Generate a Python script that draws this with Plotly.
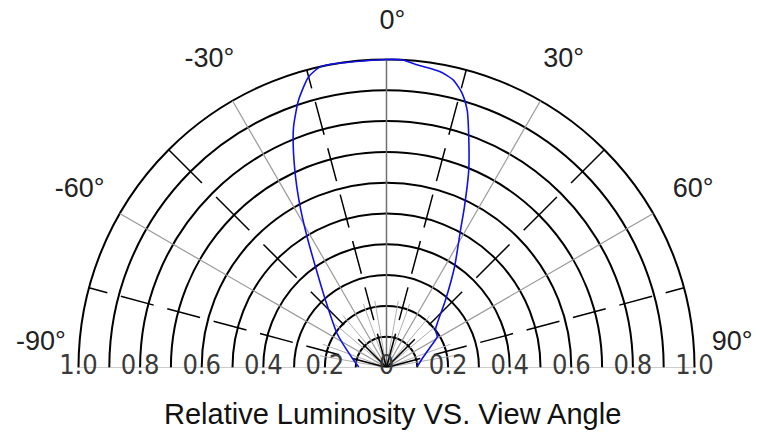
import plotly.graph_objects as go

# ---------------- data ----------------
curve_theta = [-89, -77.6, -55.6, -42.2, -35.2, -31.3, -29.2, -27.6, -25.5, -22.9,
               -21.1, -18.2, -15.0, -12.4, -8.6, 0, 3, 5.9, 10.3, 13.1, 15.4,
               17.4, 19.6, 22.6, 25.9, 28.3, 34.1, 41.2, 52.6, 58.7, 64.7, 73.7, 88]
curve_r = [0.09, 0.109, 0.194, 0.295, 0.40, 0.496, 0.561, 0.614, 0.686, 0.778,
           0.838, 0.914, 0.977, 1.0, 1.0, 1.0, 1.0, 0.987, 0.976, 0.958, 0.924,
           0.876, 0.796, 0.695, 0.579, 0.507, 0.394, 0.291, 0.20, 0.193, 0.158, 0.125, 0.10]

radial_label_values = [1.0, 0.8, 0.6, 0.4, 0.2]
radial_label_text = ["1.0", "0.8", "0.6", "0.4", "0.2"]
angle_ticks = [-90, -60, -30, 0, 30, 60, 90]
angle_tick_text = ["-90°", "-60°", "-30°", "0°", "30°", "60°", "90°"]
ring_values = [0.1, 0.2, 0.3, 0.4, 0.5, 0.6, 0.7, 0.8, 0.9, 1.0]
dash_rays_a = [-75, -15, 15, 75]
dash_rays_b = [-45, 45]
minor_spokes = [-80, -70, -50, -40, -20, -10, 10, 20, 40, 50, 70, 80]
title_text = "Relative Luminosity VS. View Angle"

W, H = 764, 434
NARROW = "Liberation Sans Narrow, DejaVu Sans Condensed, Arial Narrow, sans-serif"
REG = "Liberation Sans, Arial, sans-serif"

# polar geometry (pixels): centre and radius of the r=1 circle
CX, CY, R1 = 386.5, 367.5, 308.0
RMAX = 1.16
RP = R1 * RMAX

fig = go.Figure()

# minor gray spokes near the centre
sp_r, sp_t = [], []
for a in minor_spokes:
    sp_r += [0, 0.22, None]
    sp_t += [a, a, None]
fig.add_trace(go.Scatterpolar(r=sp_r, theta=sp_t, mode="lines",
                              line=dict(color="#b0b0b0", width=1),
                              hoverinfo="skip", showlegend=False))

# major angular grid lines (30, 60, 90)
gr_r, gr_t = [], []
for a in angle_ticks:
    if a != 0:
        gr_r += [0, 1, None]
        gr_t += [a, a, None]
fig.add_trace(go.Scatterpolar(r=gr_r, theta=gr_t, mode="lines",
                              line=dict(color="#9a9a9a", width=1.2),
                              hoverinfo="skip", showlegend=False))

# 0 degree axis line
fig.add_trace(go.Scatterpolar(r=[0, 1], theta=[0, 0], mode="lines",
                              line=dict(color="#707070", width=1.5),
                              hoverinfo="skip", showlegend=False))

# dashed tick rays
for a in dash_rays_a:
    fig.add_trace(go.Scatterpolar(
        r=[1, 0], theta=[a, a], mode="lines",
        line=dict(color="black", width=1.5,
                  dash="19px,14px,34px,14px,34px,14px,34px,14px,34px,14px,34px,14px,34px,14px"),
        hoverinfo="skip", showlegend=False))
for a in dash_rays_b:
    fig.add_trace(go.Scatterpolar(
        r=[1, 0], theta=[a, a], mode="lines",
        line=dict(color="black", width=1.5, dash="47px,20px"),
        hoverinfo="skip", showlegend=False))

# luminosity curve
fig.add_trace(go.Scatterpolar(r=curve_r, theta=curve_theta, mode="lines",
                              line=dict(color="#1010e8", width=1.6, shape="spline", smoothing=0.6),
                              showlegend=False))

# radial labels along the base line
lab_r = radial_label_values + [0] + radial_label_values[::-1]
lab_t = [-90] * len(radial_label_values) + [90] + [90] * len(radial_label_values)
lab_s = radial_label_text + ["0"] + radial_label_text[::-1]
fig.add_trace(go.Scatterpolar(r=lab_r, theta=lab_t, mode="text", text=lab_s,
                              textposition="middle center", cliponaxis=False,
                              textfont=dict(family=NARROW, size=27, color="#3a3a3a"),
                              hoverinfo="skip", showlegend=False))

# angle labels outside the arc
ang_r, ang_t = [], []
for a in angle_ticks:
    if abs(a) == 90:
        ang_r.append(1.125)
        ang_t.append(a - 4 if a > 0 else a + 4)
    elif a == 0:
        ang_r.append(1.12)
        ang_t.append(a + 1)
    else:
        ang_r.append(1.15)
        ang_t.append(a)
fig.add_trace(go.Scatterpolar(r=ang_r, theta=ang_t, mode="text", text=angle_tick_text,
                              textposition="middle center", cliponaxis=False,
                              textfont=dict(family=REG, size=27, color="#222222"),
                              hoverinfo="skip", showlegend=False))

fig.update_layout(
    width=W, height=H,
    margin=dict(l=0, r=0, t=0, b=0),
    paper_bgcolor="white",
    plot_bgcolor="white",
    polar=dict(
        domain=dict(x=[(CX - RP) / W, (CX + RP) / W], y=[(H - CY) / H, (H - CY + RP) / H]),
        sector=[0, 180],
        bgcolor="white",
        angularaxis=dict(
            rotation=90, direction="clockwise",
            tickmode="array", tickvals=angle_ticks,
            showticklabels=False, ticks="",
            showgrid=False, showline=False,
        ),
        radialaxis=dict(
            range=[0, RMAX], tickmode="array", tickvals=ring_values,
            showticklabels=False, ticks="",
            showgrid=True, gridcolor="black", gridwidth=1.5,
            showline=False, layer="below traces",
        ),
    ),
    annotations=[dict(text=title_text, x=392 / W, y=(H - 414) / H,
                      xref="paper", yref="paper", showarrow=False,
                      xanchor="center", yanchor="middle",
                      font=dict(family=REG, size=29, color="#111111"))],
)

fig.write_html("out.html", config={"displayModeBar": False},
               post_script="document.body.style.margin='0';")
